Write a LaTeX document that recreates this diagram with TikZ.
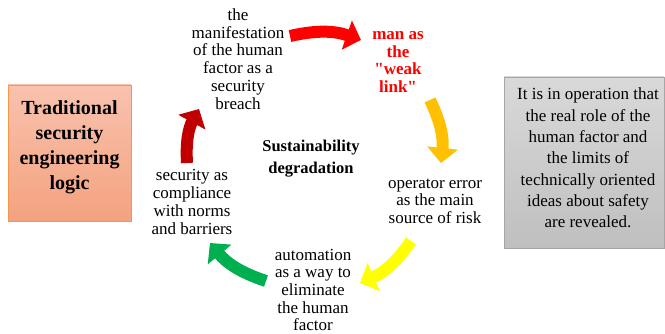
\documentclass[tikz,border=0pt]{standalone}
\usepackage{fontspec}
\setmainfont{Liberation Serif}[Ligatures=TeXOff]
\usetikzlibrary{arrows.meta}
\definecolor{cRed}{HTML}{FF0000}
\definecolor{cOrange}{HTML}{FFC000}
\definecolor{cYellow}{HTML}{FFFF00}
\definecolor{cGreen}{HTML}{00B050}
\definecolor{cDark}{HTML}{C00000}
\definecolor{salmonTop}{HTML}{F8C2AE}
\definecolor{salmonBot}{HTML}{F4A27F}
\definecolor{salmonLine}{HTML}{F79646}
\definecolor{grayTop}{HTML}{D9D9D9}
\definecolor{grayBot}{HTML}{BFBFBF}
\definecolor{grayLine}{HTML}{A6A6A6}
\begin{document}
\begin{tikzpicture}[x=1pt,y=-1pt,
  every node/.style={inner sep=0pt, align=center},
  cyc/.style={font=\fontsize{17}{17.7}\selectfont},
  flow/.style={line width=12pt, -{Triangle[width=30pt,length=15pt]}, bend left=16},
  leftbox/.style={draw=salmonLine, line width=0.8pt, top color=salmonTop, bottom color=salmonBot, minimum width=123pt, minimum height=136pt},
  rightbox/.style={draw=grayLine, line width=0.8pt, top color=grayTop, bottom color=grayBot, minimum width=160pt, minimum height=171pt}]
\useasboundingbox (0,0) rectangle (665,334);

% boxes
\node[leftbox] (tradbox) at (69.5,153) {};
\node[font=\bfseries\fontsize{20}{25}\selectfont] (trad) at (69.5,147.5) {Traditional\\security\\engineering\\logic};
\node[rightbox] (opbox) at (584,162.5) {};
\node[font=\fontsize{17}{21.3}\selectfont] (optext) at (588,158) {It is in operation that\\the real role of the\\human factor and\\the limits of\\technically oriented\\ideas about safety\\are revealed.};

% cycle texts
\node[cyc] (manif) at (238,59) {the\\manifestation\\of the human\\factor as a\\security\\breach};
\node[cyc, font=\bfseries\fontsize{17}{17.7}\selectfont, text=cRed] (weak) at (398,62) {man as\\the\\"weak\\link"};
\node[cyc] (operr) at (435,201) {operator error\\as the main\\source of risk};
\node[cyc] (autom) at (313,290) {automation\\as a way to\\eliminate\\the human\\factor};
\node[cyc] (compl) at (192,202) {security as\\compliance\\with norms\\and barriers};
\node[font=\bfseries\fontsize{16.5}{22}\selectfont] (sust) at (311,158.5) {Sustainability\\degradation};

% arrow end points
\coordinate (a1s) at (290,36);  \coordinate (a1e) at (361,40);
\coordinate (a2s) at (430,100); \coordinate (a2e) at (441,163);
\coordinate (a3s) at (411,241); \coordinate (a3e) at (360,283);
\coordinate (a4s) at (266,281); \coordinate (a4e) at (210,243);
\coordinate (a5s) at (187,163); \coordinate (a5e) at (199,109);

\draw[flow, cRed]    (a1s) to (a1e);
\draw[flow, cOrange] (a2s) to (a2e);
\draw[flow, cYellow] (a3s) to (a3e);
\draw[flow, cGreen]  (a4s) to (a4e);
\draw[flow, cDark]   (a5s) to (a5e);
\end{tikzpicture}
\end{document}
